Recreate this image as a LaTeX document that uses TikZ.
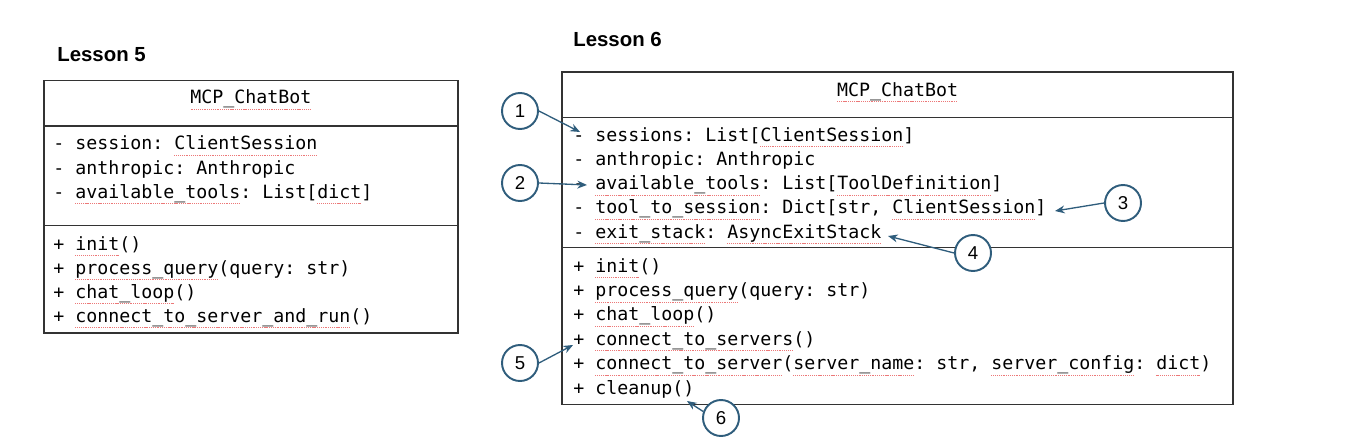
\documentclass[tikz,border=0pt]{standalone}
\usepackage{fontspec}
\setmainfont{Liberation Sans}
\setmonofont{DejaVu Sans Mono}
\usetikzlibrary{arrows.meta}
\definecolor{callout}{RGB}{47,93,124}
\definecolor{spell}{RGB}{236,120,120}
\definecolor{frame}{RGB}{51,51,51}
% red spell-check marks under words
\newsavebox\sqbox
\newcommand\sq[1]{\sbox\sqbox{#1}\rlap{\lower3.3pt\hbox to\wd\sqbox{\color{spell}\xleaders\hbox{\rule{0.6pt}{0.3pt}\kern0.45pt}\hfill}}\usebox\sqbox}

\begin{document}
\begin{tikzpicture}[x=0.02cm, y=-0.02cm,
    cls/.style ={draw=frame, line width=0.8pt},
    ttl/.style ={anchor=base west, inner sep=0pt, font=\fontsize{11.6pt}{14pt}\selectfont\bfseries},
    hdr/.style ={anchor=base, inner sep=0pt, font=\fontsize{10.4pt}{13pt}\selectfont\ttfamily},
    mrow/.style={anchor=base west, inner sep=0pt, font=\fontsize{10.4pt}{13pt}\selectfont\ttfamily},
    num/.style ={circle, draw=callout, line width=1.1pt, fill=white, minimum size=0.72cm, inner sep=0pt, font=\fontsize{10.6pt}{12pt}\selectfont},
    ptr/.style ={draw=callout, line width=0.75pt, -{Stealth[length=5.5pt,width=4.5pt]}},
  ]
  \useasboundingbox (0,0) rectangle (1362,446);
  % Lesson 5
  \node[ttl] (l5) at (57,62) {Lesson 5};
  \node[cls, minimum width=8.28cm, minimum height=5.05cm] (c5) at (251,206.75) {};
  \draw[cls] ([yshift=-0.92cm]c5.north west) -- ([yshift=-0.92cm]c5.north east);
  \draw[cls] ([yshift=-2.91cm]c5.north west) -- ([yshift=-2.91cm]c5.north east);
  \node[hdr] (h5) at (251,104) {\sq{MCP\_ChatBot}};
  \foreach \txt [count=\i from 0] in {{- session: \sq{ClientSession}},
      {- anthropic: Anthropic},
      {- \sq{available\_tools}: List[\sq{dict}]}}
    \node[mrow] (a5\i) at (53,{150+24*\i}) {\txt};
  \foreach \txt [count=\i from 0] in {{+ \sq{init}()},
      {+ \sq{process\_query}(query: str)},
      {+ \sq{chat\_loop}()},
      {+ \sq{connect\_to\_server\_and\_run}()}}
    \node[mrow] (m5\i) at (53,{250+24*\i}) {\txt};
  % Lesson 6
  \node[ttl] (l6) at (573,47) {Lesson 6};
  \node[cls, minimum width=13.42cm, minimum height=6.65cm] (c6) at (897.5,238.25) {};
  \draw[cls] ([yshift=-0.92cm]c6.north west) -- ([yshift=-0.92cm]c6.north east);
  \draw[cls] ([yshift=-3.53cm]c6.north west) -- ([yshift=-3.53cm]c6.north east);
  \node[hdr] (h6) at (897.5,96) {\sq{MCP\_ChatBot}};
  \foreach \txt [count=\i from 0] in {{- sessions: List[\sq{ClientSession}]},
      {- anthropic: Anthropic},
      {- \sq{available\_tools}: List[\sq{ToolDefinition}]},
      {- \sq{tool\_to\_session}: Dict[str, \sq{ClientSession}]},
      {- \sq{exit\_stack}: \sq{AsyncExitStack}}}
    \node[mrow] (a6\i) at (573,{141+24.3*\i}) {\txt};
  \foreach \txt [count=\i from 0] in {{+ \sq{init}()},
      {+ \sq{process\_query}(query: str)},
      {+ \sq{chat\_loop}()},
      {+ \sq{connect\_to\_servers}()},
      {+ \sq{connect\_to\_server}(\sq{server\_name}: str, \sq{server\_config}: \sq{dict})},
      {+ cleanup()}}
    \node[mrow] (m6\i) at (573,{272+24.4*\i}) {\txt};
  % callouts
  \node[num] (n1) at (520,111) {1};
  \node[num] (n2) at (520,183) {2};
  \node[num] (n3) at (1123,203) {3};
  \node[num] (n4) at (973,253) {4};
  \node[num] (n5) at (520,363) {5};
  \node[num] (n6) at (721,418) {6};
  \coordinate (t1) at (580,132);
  \coordinate (t2) at (587,185);
  \coordinate (t3) at (1055,211);
  \coordinate (t4) at (888,236);
  \coordinate (t5) at (573,345);
  \coordinate (t6) at (687,401);
  \draw[ptr] (n1.east) -- (t1);
  \draw[ptr] (n2.east) -- (t2);
  \draw[ptr] (n3.west) -- (t3);
  \draw[ptr] (n4.west) -- (t4);
  \draw[ptr] (n5.east) -- (t5);
  \draw[ptr] (n6.160) -- (t6);
\end{tikzpicture}
\end{document}
